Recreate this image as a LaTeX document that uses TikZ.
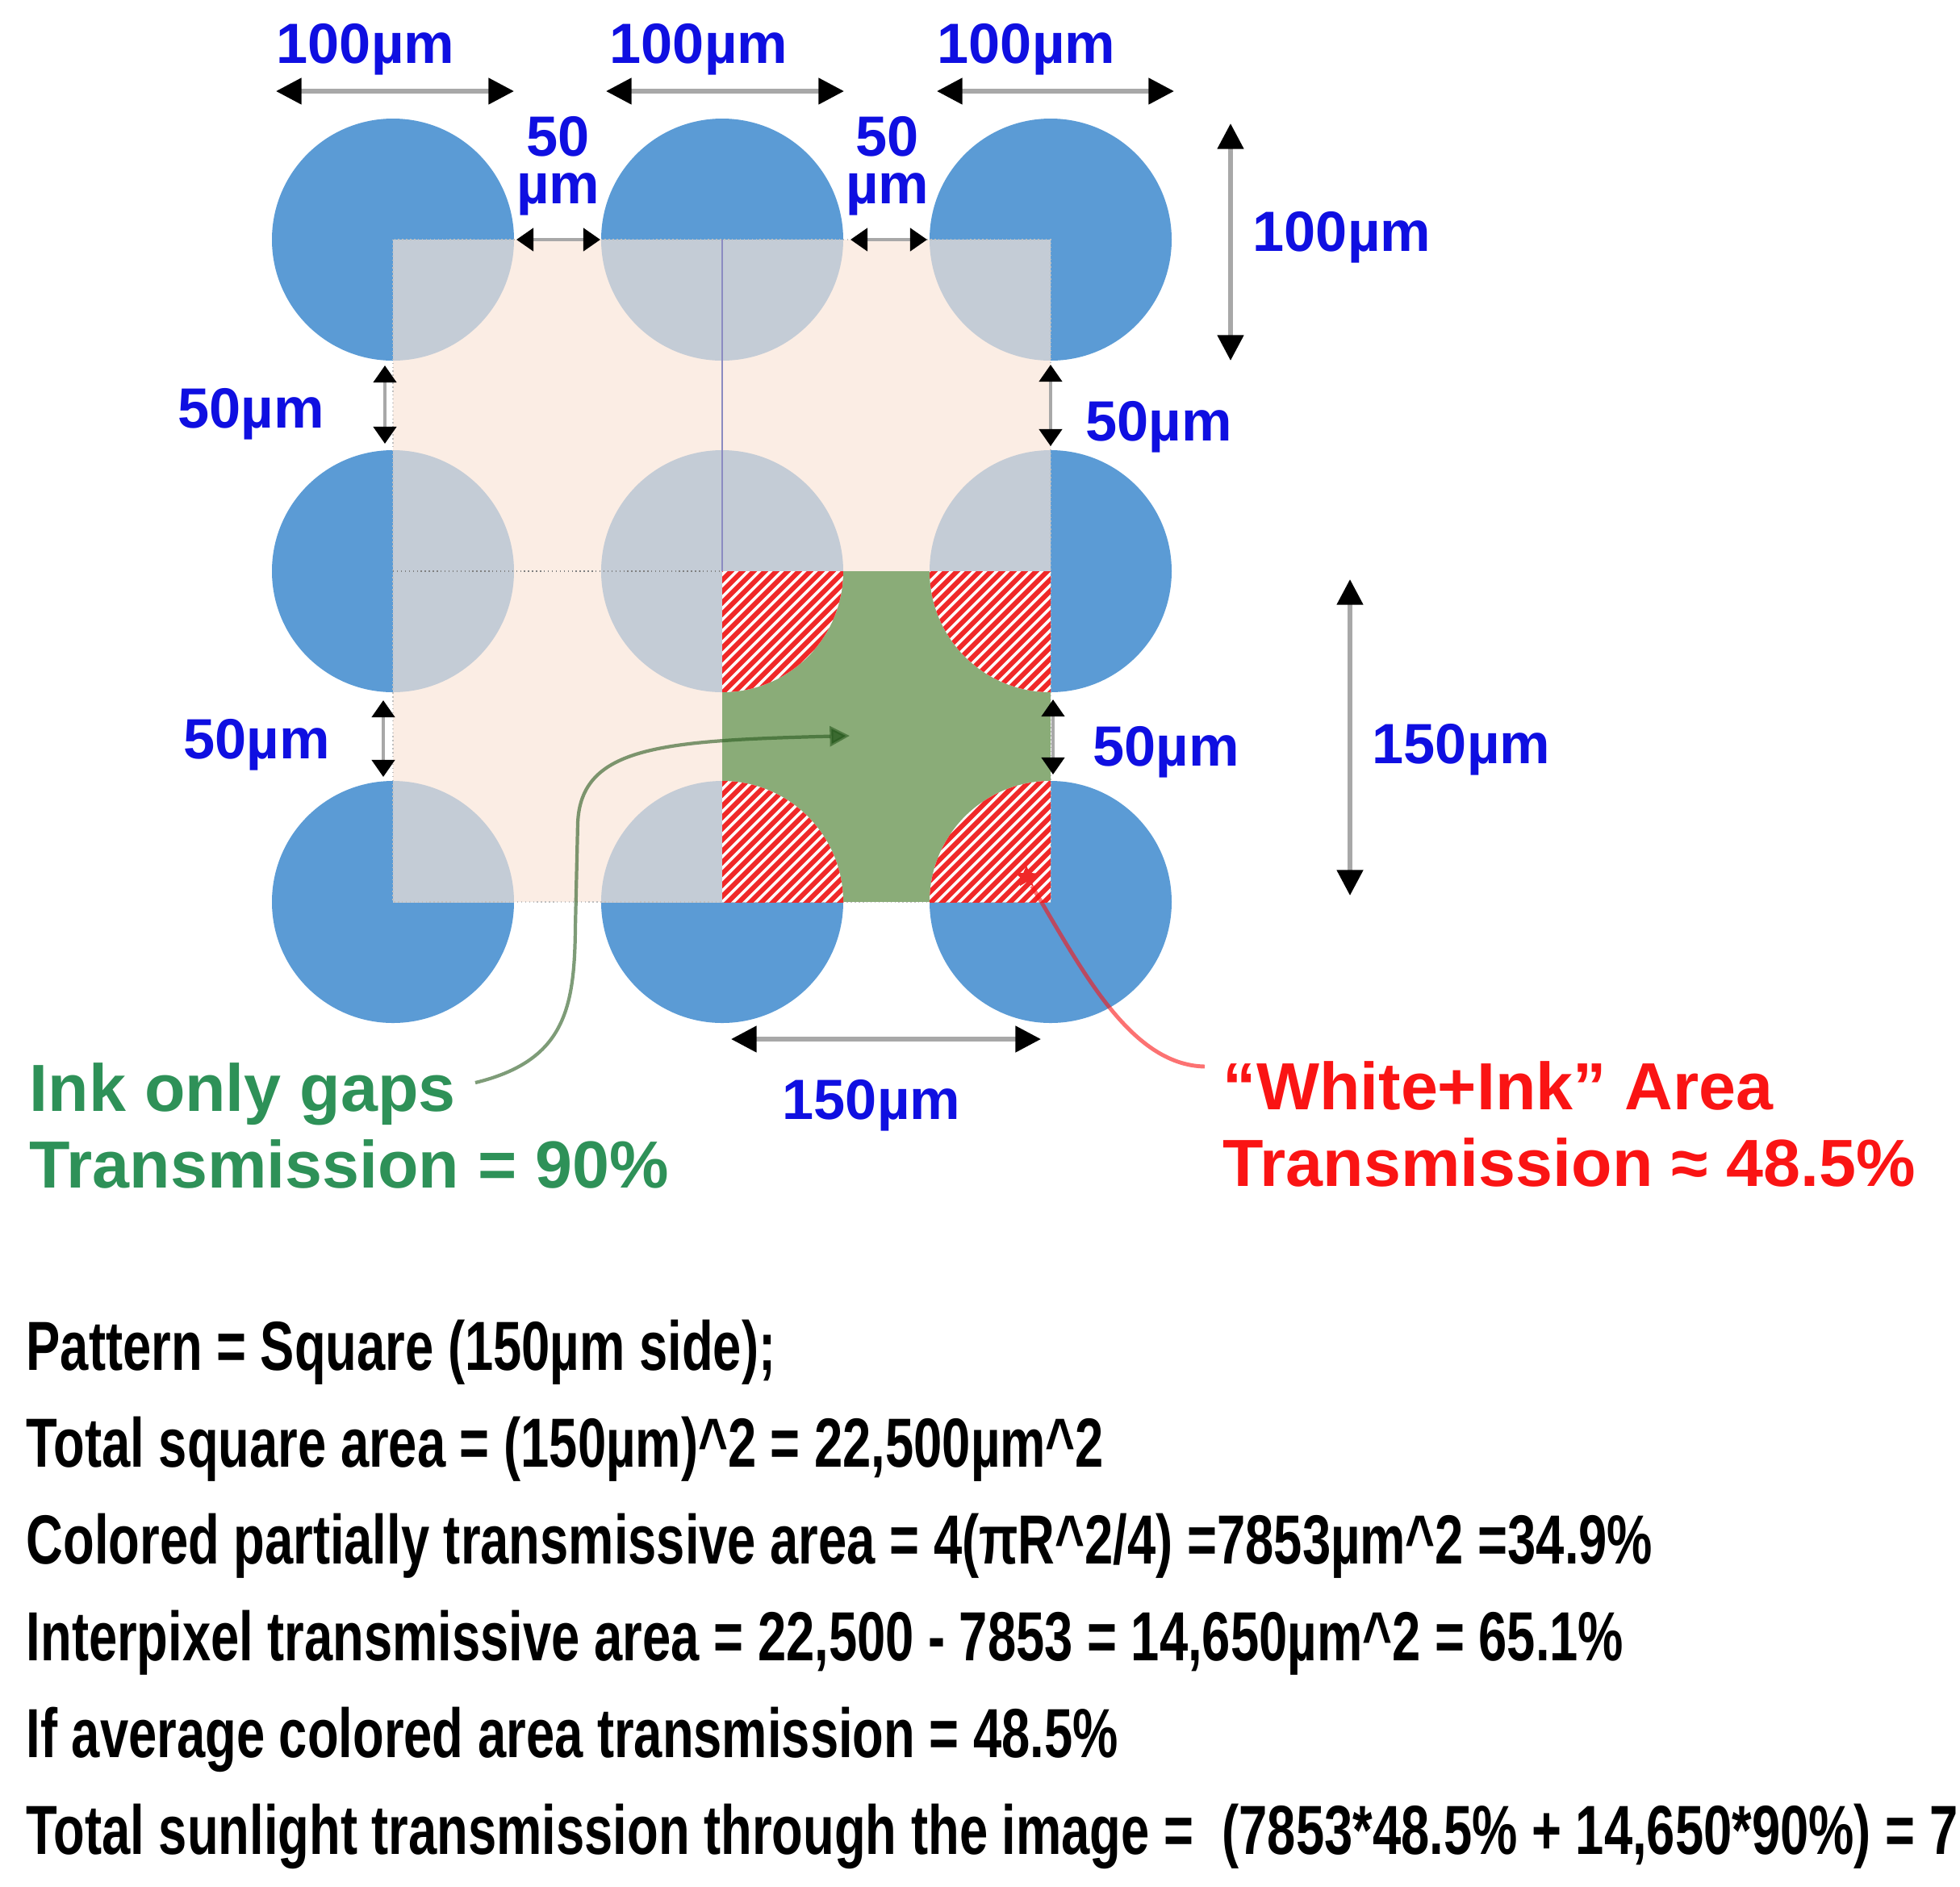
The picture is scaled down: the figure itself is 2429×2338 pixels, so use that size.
\documentclass[tikz,border=0pt]{standalone}
\usepackage{fontspec}
\setmainfont{Liberation Sans}
\newfontfamily\calcfont{Liberation Sans}[FakeStretch=0.735]
\usetikzlibrary{arrows.meta, shapes.geometric}
\definecolor{dotblue}{RGB}{91,155,213}
\definecolor{overlap}{RGB}{196,204,214}
\definecolor{peach}{RGB}{251,237,228}
\definecolor{gapgreen}{RGB}{138,172,120}
\definecolor{hatchred}{RGB}{240,40,40}
\definecolor{dimblue}{RGB}{15,15,225}
\definecolor{inkgreen}{RGB}{46,145,88}
\definecolor{areared}{RGB}{250,20,20}
\definecolor{dimgray}{RGB}{168,168,168}
\definecolor{leadgreen}{RGB}{40,90,30}

\begin{document}
\begin{tikzpicture}[x=0.01cm, y=-0.01cm,
  dimline/.style={draw=dimgray, line width=1.7pt,
    {Triangle[length=9pt,width=9pt,color=black]}-{Triangle[length=9pt,width=9pt,color=black]}},
  gapline/.style={draw=dimgray, line width=1.2pt,
    {Triangle[length=6pt,width=8pt,color=black]}-{Triangle[length=6pt,width=8pt,color=black]}},
  dimlabel/.style={text=dimblue, font=\fontsize{20}{16.5}\selectfont\bfseries, inner sep=0pt},
  note/.style={font=\fontsize{23.5}{27}\selectfont\bfseries, inner sep=0pt, align=left},
  hatch/.style={hatchred, line width=1.7pt}]

	\useasboundingbox (0,0) rectangle (2429,2338);

	\foreach \x in {487,895,1302}
		\foreach \y in {297,708,1118}
			\fill[dotblue] (\x,\y) circle (150);
	\fill[peach] (487,297) rectangle (1302,1118);
	\begin{scope}
		\clip (487,297) rectangle (1302,1118);
		\foreach \x in {487,895,1302}
			\foreach \y in {297,708,1118}
				\fill[overlap] (\x,\y) circle (150);
	\end{scope}
	\draw[gray!50, densely dotted] (487,297) rectangle (1302,1118);
	\draw[blue!30!gray!70, line width=0.5pt] (895,297) -- (895,708);
	\draw[gray, densely dotted] (487,708) -- (895,708);

	\fill[gapgreen] (895,708) rectangle (1302,1118);
	\begin{scope}
		\clip (895,708) rectangle (1302,1118);
		\clip (895,708) circle (150) (1302,708) circle (150) (895,1118) circle (150) (1302,1118) circle (150);
		\fill[white] (895,708) rectangle (1302,1118);
		\foreach \k in {1600,1614,...,2440}
			\draw[hatch] (\k-700,700) -- (\k-1130,1130);
	\end{scope}

	\foreach \nm/\xa/\ya/\xb/\yb in {wa/342/113/637/113, wb/751/113/1046/113, wc/1161/113/1455/113,
			hr/1525/153/1525/447, hs/1673/718/1673/1110, ws/906/1288/1290/1288} {
		\coordinate (\nm-s) at (\xa,\ya);
		\coordinate (\nm-e) at (\xb,\yb);
		\draw[dimline] (\nm-s) -- (\nm-e);
	}
	\foreach \nm/\xa/\ya/\xb/\yb in {ga/640/297/744/297, gb/1054/297/1149/297, gl/477/453/477/550,
			gm/475/868/475/963, gr/1302/452/1302/553, gs/1305/867/1305/960} {
		\coordinate (\nm-s) at (\xa,\ya);
		\coordinate (\nm-e) at (\xb,\yb);
		\draw[gapline] (\nm-s) -- (\nm-e);
	}

	\node[dimlabel, anchor=base west] (w100a) at (342,78) {100µm};
	\node[dimlabel, anchor=base west] (w100b) at (755,78) {100µm};
	\node[dimlabel, anchor=base west] (w100c) at (1161,78) {100µm};
	\node[dimlabel, align=center, anchor=base] (gap50a) at (692,252) {50\\µm};
	\node[dimlabel, align=center, anchor=base] (gap50b) at (1100,252) {50\\µm};
	\node[dimlabel, anchor=base west] (h100) at (1552,311) {100µm};
	\node[dimlabel, anchor=base west] (vgapl1) at (220,530) {50µm};
	\node[dimlabel, anchor=base west] (vgapl2) at (227,940) {50µm};
	\node[dimlabel, anchor=base west] (vgapr1) at (1345,546) {50µm};
	\node[dimlabel, anchor=base west] (vgapr2) at (1354,949) {50µm};
	\node[dimlabel, anchor=base west] (h150) at (1700,946) {150µm};
	\node[dimlabel, anchor=base west] (w150) at (969,1387) {150µm};

	\node[note, text=inkgreen, anchor=base west] (inkgaps) at (36,1472) {Ink only gaps\\Transmission = 90\%};
	\node[note, text=areared, anchor=base west] (whiteink) at (1515,1470) {“White+Ink” Area\\Transmission ≈ 48.5\%};

	\node[star, star points=5, star point ratio=2.2, fill=hatchred, inner sep=0pt, minimum size=8pt] (redmark) at (1272,1087) {};
	\coordinate (redend) at (1493,1322);
	\draw[areared, draw opacity=0.6, line width=1.4pt] (redmark) .. controls (1340,1200) and (1400,1320) .. (redend);

	\coordinate (gapstail) at (589,1342);
	\coordinate (gaptip) at (1053,912);
	\draw[leadgreen, draw opacity=0.6, fill opacity=0.8, line width=1.2pt, -{Triangle[length=7pt,width=7pt]}]
		(gapstail) .. controls (700,1315) and (712,1250) .. (713,1150) -- (716,1020)
		.. controls (720,925) and (820,918) .. (gaptip);

	\node[anchor=base west, align=left, inner sep=0pt,
		font=\calcfont\bfseries\fontsize{24.5}{34.1}\selectfont] (calc) at (32,2298)
		{Pattern = Square (150µm side);\\
		Total square area = (150µm)\textasciicircum 2 = 22,500µm\textasciicircum 2\\
		Colored partially transmissive area = 4(πR\textasciicircum 2/4) =7853µm\textasciicircum 2 =34.9\%\\
		Interpixel transmissive area = 22,500 - 7853 = 14,650µm\textasciicircum 2 = 65.1\%\\
		If average colored area transmission = 48.5\%\\
		Total sunlight transmission through the image = \ (7853*48.5\% + 14,650*90\%) = 7};
\end{tikzpicture}
\end{document}
